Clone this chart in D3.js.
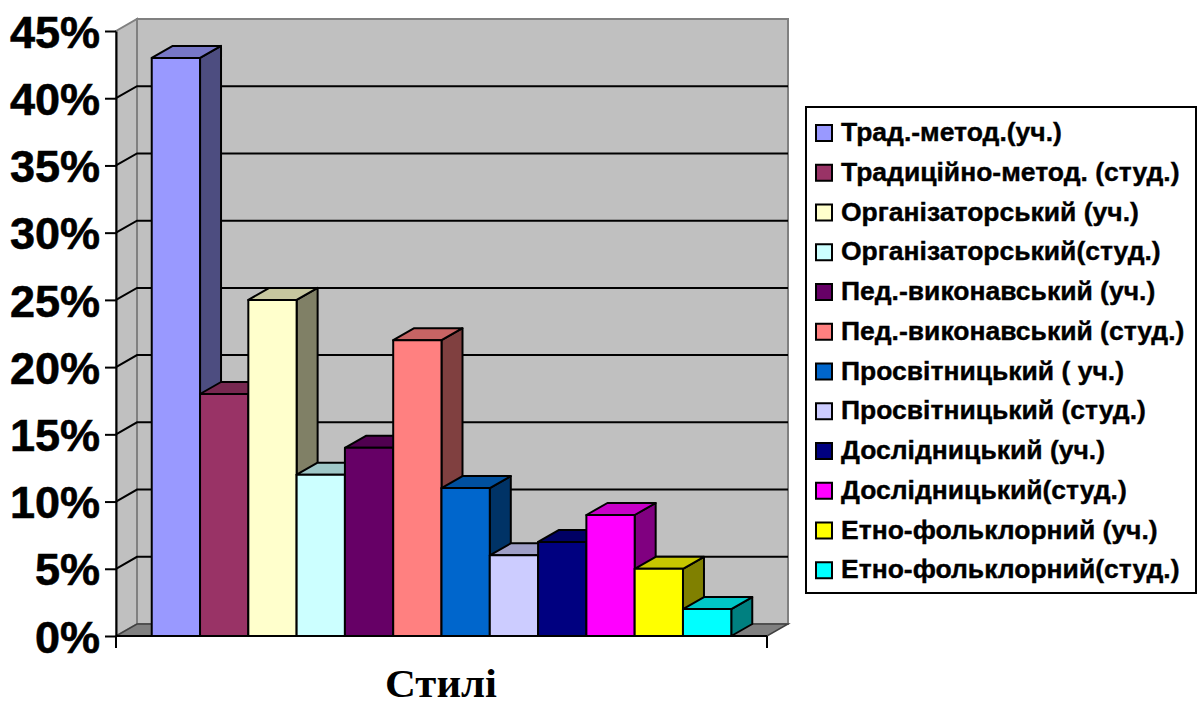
<!DOCTYPE html>
<html>
<head>
<meta charset="utf-8">
<script src="https://cdn.jsdelivr.net/npm/d3@7"></script>
<style>
  body { margin: 0; background: #fff; }
  svg { display: block; }
</style>
</head>
<body>
<div class="chart"></div>
<script>
const styles = [
  'Трад.-метод.(уч.)',
  'Традиційно-метод. (студ.)',
  'Організаторський (уч.)',
  'Організаторський(студ.)',
  'Пед.-виконавський (уч.)',
  'Пед.-виконавський (студ.)',
  'Просвітницький ( уч.)',
  'Просвітницький (студ.)',
  'Дослідницький (уч.)',
  'Дослідницький(студ.)',
  'Етно-фольклорний (уч.)',
  'Етно-фольклорний(студ.)'
];
const shares = [0.43, 0.18, 0.25, 0.12, 0.14, 0.22, 0.11, 0.06, 0.07, 0.09, 0.05, 0.02];
const yTicks = [0, 0.05, 0.10, 0.15, 0.20, 0.25, 0.30, 0.35, 0.40, 0.45];
const colors = ['#9999FF', '#993366', '#FFFFCC', '#CCFFFF', '#660066', '#FF8080',
                '#0066CC', '#CCCCFF', '#000080', '#FF00FF', '#FFFF00', '#00FFFF'];
const xTitle = 'Стилі';

const width = 1200;
const height = 702;
const plotL = 116, plotR = 767, plotB = 636, plotT = 31;
const dx = 21, dy = -12;   // depth offset of the 3d walls and bars

const svg = d3.select('.chart')
  .append('svg')
  .attr('width', width)
  .attr('height', height);

const y = d3.scaleLinear().domain([0, 0.45]).range([plotB, plotT]);
const x = d3.scaleBand().domain(styles).range([plotL, plotR])
  .paddingInner(0).paddingOuter(0.74);

const pts = arr => arr.map(p => p.join(',')).join(' ');

// left wall
svg.append('polygon')
  .attr('points', pts([[plotL, plotB], [plotL, plotT], [plotL + dx, plotT + dy], [plotL + dx, plotB + dy]]))
  .attr('fill', '#C0C0C0')
  .attr('stroke', '#808080')
  .attr('stroke-width', 2);

// back wall
svg.append('rect')
  .attr('x', plotL + dx)
  .attr('y', plotT + dy)
  .attr('width', plotR - plotL)
  .attr('height', plotB - plotT)
  .attr('fill', '#C0C0C0')
  .attr('stroke', '#808080')
  .attr('stroke-width', 2);

// floor
svg.append('polygon')
  .attr('points', pts([[plotL, plotB], [plotR, plotB], [plotR + dx, plotB + dy], [plotL + dx, plotB + dy]]))
  .attr('fill', '#808080')
  .attr('stroke', '#404040')
  .attr('stroke-width', 1.5);

// gridlines
const grid = yTicks.filter(t => t > 0 && t < 0.45);
svg.selectAll('.grid')
  .data(grid)
  .enter()
  .append('polyline')
  .attr('class', 'grid')
  .attr('points', d => pts([[plotL, y(d)], [plotL + dx, y(d) + dy], [plotR + dx, y(d) + dy]]))
  .attr('fill', 'none')
  .attr('stroke', '#000')
  .attr('stroke-width', 2);

// bars
const shade = (c, k) => {
  const r = d3.rgb(c);
  return d3.rgb(r.r * k, r.g * k, r.b * k).toString();
};

const bars = svg.selectAll('.bar')
  .data(styles)
  .enter()
  .append('g')
  .attr('class', 'bar');

bars.each(function(d, i) {
  const g = d3.select(this);
  const x0 = x(d), x1 = x(d) + x.bandwidth();
  const yt = y(shares[i]), yb = y(0);
  g.append('polygon')
    .attr('points', pts([[x1, yb], [x1, yt], [x1 + dx, yt + dy], [x1 + dx, yb + dy]]))
    .attr('fill', shade(colors[i], 0.5));
  g.append('polygon')
    .attr('points', pts([[x0, yt], [x1, yt], [x1 + dx, yt + dy], [x0 + dx, yt + dy]]))
    .attr('fill', shade(colors[i], 0.78));
  g.append('rect')
    .attr('x', x0)
    .attr('y', yt)
    .attr('width', x.bandwidth())
    .attr('height', yb - yt)
    .attr('fill', colors[i]);
  g.selectAll('polygon, rect')
    .attr('stroke', '#000')
    .attr('stroke-width', 2)
    .attr('stroke-linejoin', 'round');
});

// y axis
const yAxis = svg.append('g')
  .attr('transform', `translate(${plotL},0)`)
  .call(d3.axisLeft(y).tickValues(yTicks).tickFormat(d3.format('.0%'))
    .tickSize(11).tickSizeOuter(0).tickPadding(5));
yAxis.select('.domain').attr('stroke', '#000').attr('stroke-width', 2);
yAxis.selectAll('.tick line').attr('stroke', '#000').attr('stroke-width', 2);
yAxis.selectAll('.tick text')
  .attr('font-family', 'Liberation Sans, Arial, sans-serif')
  .attr('font-weight', 'bold')
  .attr('font-size', 45)
  .attr('fill', '#000')
  .attr('stroke', '#000')
  .attr('stroke-width', 0.6)
  .attr('dy', '0.36em');

// category axis line
svg.append('line')
  .attr('x1', plotL).attr('x2', plotR)
  .attr('y1', plotB).attr('y2', plotB)
  .attr('stroke', '#000').attr('stroke-width', 2);
svg.selectAll('.xtick')
  .data([plotL, plotR])
  .enter()
  .append('line')
  .attr('x1', d => d).attr('x2', d => d)
  .attr('y1', plotB).attr('y2', plotB + 12)
  .attr('stroke', '#000').attr('stroke-width', 2);

// axis title
svg.append('text')
  .attr('x', 385)
  .attr('y', 697)
  .attr('textLength', 112)
  .attr('lengthAdjust', 'spacingAndGlyphs')
  .attr('font-family', 'Liberation Serif, Times New Roman, serif')
  .attr('font-weight', 'bold')
  .attr('font-size', 40)
  .text(xTitle);

// legend
const legend = svg.append('g');
legend.append('rect')
  .attr('x', 806).attr('y', 107)
  .attr('width', 390).attr('height', 486)
  .attr('fill', '#fff')
  .attr('stroke', '#000')
  .attr('stroke-width', 2);

const rowH = 39.75;
const items = legend.selectAll('.item')
  .data(styles)
  .enter()
  .append('g')
  .attr('class', 'item')
  .attr('transform', (d, i) => `translate(0,${141 + i * rowH})`);

items.append('rect')
  .attr('x', 816).attr('y', -16)
  .attr('width', 16).attr('height', 16)
  .attr('fill', (d, i) => colors[i])
  .attr('stroke', '#000')
  .attr('stroke-width', 2);

items.append('text')
  .attr('x', 841)
  .attr('y', 0)
  .attr('font-family', 'Liberation Sans, Arial, sans-serif')
  .attr('font-weight', 'bold')
  .attr('font-size', 26.5)
  .attr('stroke', '#000')
  .attr('stroke-width', 0.4)
  .text(d => d);
</script>
</body>
</html>
